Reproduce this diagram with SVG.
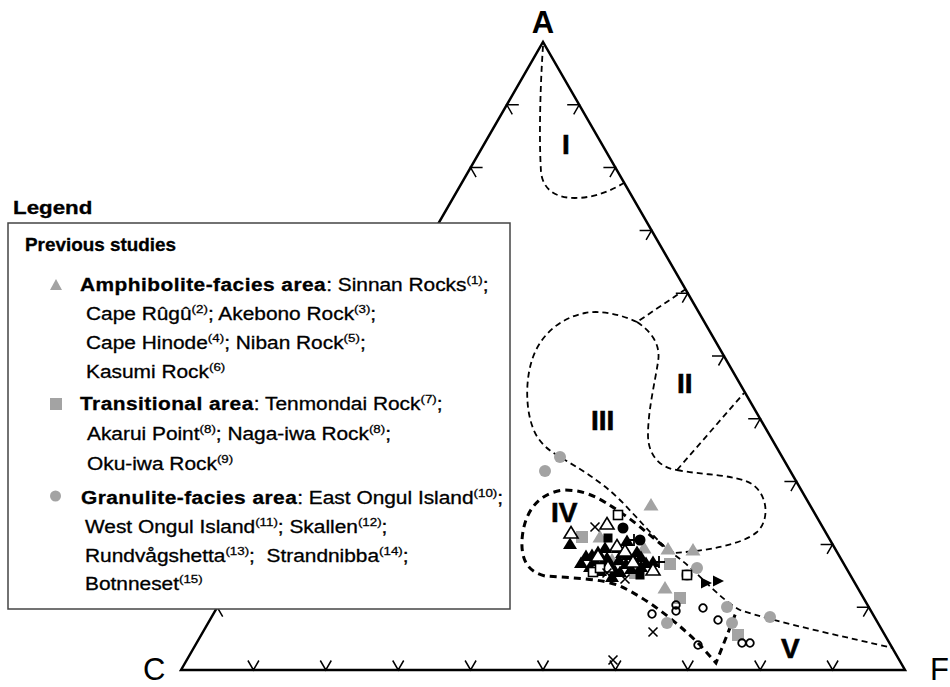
<svg xmlns="http://www.w3.org/2000/svg" xmlns:xlink="http://www.w3.org/1999/xlink" width="950" height="687" viewBox="0 0 950 687">
<style>
.edge{fill:none;stroke:#000;stroke-width:2.5;stroke-linejoin:miter}
.tick{fill:none;stroke:#000;stroke-width:1.5}
.thin{fill:none;stroke:#000;stroke-width:1.8;stroke-dasharray:6 4}
.thick{fill:none;stroke:#000;stroke-width:3;stroke-dasharray:7 5}
.corner{font-family:"Liberation Sans",Arial,sans-serif;font-size:31px;fill:#000}
.roman{font-family:"Liberation Sans",Arial,sans-serif;font-size:28px;font-weight:bold;fill:#000;stroke:#000;stroke-width:0.6}
.en{font-family:"Liberation Sans",Arial,sans-serif;font-size:18px;fill:#000;stroke:#000;stroke-width:0.3}
.b{font-weight:bold;letter-spacing:0.4px}
.sup{font-size:11.5px}
</style>
<defs>
<polygon id="gt" points="0,-7 7.5,5.5 -7.5,5.5" fill="#a3a3a3"/>
<rect id="gs" x="-6" y="-6" width="12" height="12" fill="#a3a3a3"/>
<circle id="gc" r="6" fill="#a3a3a3"/>
<polygon id="bt" points="0,-6.5 7,5 -7,5" fill="#000"/>
<polygon id="ot" points="0,-6.5 7,5 -7,5" fill="#fff" stroke="#000" stroke-width="1.6"/>
<rect id="os" x="-4.5" y="-4.5" width="9" height="9" fill="#fff" stroke="#000" stroke-width="1.6"/>
<circle id="bc" r="5.5" fill="#000"/>
<rect id="bs" x="-4.5" y="-4.5" width="9" height="9" fill="#000"/>
<circle id="oc" r="3.8" fill="none" stroke="#000" stroke-width="1.8"/>
<path id="xm" d="M-4.5,-4.5 L4.5,4.5 M-4.5,4.5 L4.5,-4.5" stroke="#000" stroke-width="1.6" fill="none"/>
<path id="pl" d="M-6,0 H6 M0,-6 V6" stroke="#000" stroke-width="1.8" fill="none"/>
<polygon id="rt" points="-5,-5.5 6,0 -5,5.5" fill="#000"/>
</defs>
<rect width="950" height="687" fill="#fff"/>

<g id="triangle">
<path class="edge" d="M181,670 L543,42 L905,670 Z"/>
<path class="tick" d="M247.9,660.5 L253.4,670 L258.9,660.5 M320.3,660.5 L325.8,670 L331.3,660.5 M392.7,660.5 L398.2,670 L403.7,660.5 M465.1,660.5 L470.6,670 L476.1,660.5 M537.5,660.5 L543,670 L548.5,660.5 M609.9,660.5 L615.4,670 L620.9,660.5 M682.3,660.5 L687.8,670 L693.3,660.5 M754.7,660.5 L760.2,670 L765.7,660.5 M827.1,660.5 L832.6,670 L838.1,660.5"/>
<path class="tick" d="M856.8,607.2 L868.8,607.2 L863.3,616.7 M820.6,544.4 L832.6,544.4 L827.1,553.9 M784.4,481.6 L796.4,481.6 L790.9,491.1 M748.2,418.8 L760.2,418.8 L754.7,428.3 M712,356 L724,356 L718.5,365.5 M675.8,293.2 L687.8,293.2 L682.3,302.7 M639.6,230.4 L651.6,230.4 L646.1,239.9 M603.4,167.6 L615.4,167.6 L609.9,177.1 M567.2,104.8 L579.2,104.8 L573.7,114.3"/>
<path class="tick" d="M229.2,607.2 L217.2,607.2 L222.7,616.7 M265.4,544.4 L253.4,544.4 L258.9,553.9 M301.6,481.6 L289.6,481.6 L295.1,491.1 M337.8,418.8 L325.8,418.8 L331.3,428.3 M374,356 L362,356 L367.5,365.5 M410.2,293.2 L398.2,293.2 L403.7,302.7 M446.4,230.4 L434.4,230.4 L439.9,239.9 M482.6,167.6 L470.6,167.6 L476.1,177.1 M518.8,104.8 L506.8,104.8 L512.3,114.3"/>
<text class="corner" x="543" y="33" text-anchor="middle" font-weight="bold" font-size="29">A</text>
<text class="corner" x="143" y="680">C</text>
<text class="corner" x="930" y="680">F</text>
</g>

<g id="fields">
<path class="thin" d="M543,46 C540,90 539,140 541,172 C543,190 556,198 575,198 C595,198 612,190 624,183"/>
<path class="thin" d="M686,289 L637,322"/>
<path class="thin" d="M637,322 C620,314 600,310 585,313 C560,318 540,335 532,360 C524,385 526,420 538,438 C545,448 552,452 560,457 C578,468 600,480 620,500 C640,520 658,543 676,556 C696,570 718,598 740,610 C775,622 850,638 893,648"/>
<path class="thin" d="M637,322 C652,332 661,345 658,362 C655,382 648,410 648,435 C648,455 660,468 677,470"/>
<path class="thin" d="M677,470 L744,393"/>
<path class="thin" d="M677,470 C700,475 735,474 752,484 C768,495 770,520 757,532 C742,545 705,551 673,553"/>
<path class="thick" d="M673,553 C660,545 640,525 620,512 C600,498 585,490 565,490 C540,492 524,510 522,540 C521,560 528,572 545,576 C570,578 600,578 620,586 C650,600 680,625 700,645 L716,663 L737,610"/>
<text class="roman" x="562" y="154">I</text>
<text class="roman" x="677" y="393">II</text>
<text class="roman" x="591" y="430">III</text>
<text class="roman" x="551" y="522">IV</text>
<text class="roman" x="781" y="658">V</text>
</g>

<g id="data">
<use href="#gc" x="560" y="457"/><use href="#gc" x="545" y="471"/><use href="#gc" x="697" y="568"/><use href="#gc" x="687" y="575"/><use href="#gc" x="727" y="607"/><use href="#gc" x="732" y="623"/><use href="#gc" x="667" y="623"/><use href="#gc" x="770" y="617"/>
<use href="#gt" x="651" y="505"/><use href="#gt" x="668" y="549"/><use href="#gt" x="693" y="550"/><use href="#gt" x="665" y="588"/><use href="#gt" x="600" y="537"/><use href="#gt" x="644" y="548"/><use href="#gt" x="612" y="560"/>
<use href="#gs" x="582" y="537"/><use href="#gs" x="635" y="573"/><use href="#gs" x="670" y="564"/><use href="#gs" x="680" y="598"/><use href="#gs" x="738" y="635"/>
<use href="#ot" x="571" y="533"/><use href="#bt" x="570" y="544"/>
<use href="#ot" x="607" y="524"/><use href="#os" x="618" y="515"/><use href="#xm" x="595" y="527"/>
<use href="#bc" x="623" y="528"/><use href="#bc" x="640" y="540"/><use href="#pl" x="634" y="540"/>
<use href="#bs" x="608" y="538"/><use href="#bt" x="627" y="541"/>
<use href="#bt" x="586" y="556"/><use href="#bt" x="598" y="552"/><use href="#bt" x="605" y="548"/><use href="#bt" x="618" y="548"/><use href="#bt" x="628" y="555"/><use href="#bt" x="595" y="561"/><use href="#bt" x="603" y="563"/><use href="#bt" x="611" y="566"/><use href="#bt" x="619" y="560"/><use href="#bt" x="626" y="564"/><use href="#bt" x="634" y="560"/><use href="#bt" x="641" y="557"/><use href="#bt" x="646" y="563"/><use href="#bt" x="590" y="567"/><use href="#bt" x="600" y="571"/><use href="#bt" x="615" y="571"/><use href="#bt" x="631" y="569"/><use href="#bt" x="641" y="567"/><use href="#bt" x="612" y="577"/><use href="#bt" x="581" y="563"/><use href="#bt" x="653" y="562"/><use href="#bt" x="622" y="553"/><use href="#bt" x="592" y="555"/><use href="#bt" x="607" y="558"/><use href="#bt" x="637" y="552"/><use href="#bt" x="620" y="572"/>
<use href="#ot" x="617" y="546"/><use href="#ot" x="598" y="556"/><use href="#ot" x="625" y="551"/><use href="#ot" x="608" y="567"/><use href="#ot" x="653" y="570"/><use href="#ot" x="633" y="562"/>
<use href="#os" x="593" y="572"/><use href="#os" x="600" y="568"/><use href="#os" x="687" y="575"/>
<use href="#bs" x="640" y="575"/>
<use href="#xm" x="625" y="579"/><use href="#xm" x="607" y="573"/><use href="#xm" x="653" y="632"/><use href="#xm" x="613" y="660"/>
<use href="#pl" x="659" y="562"/>
<use href="#rt" x="706" y="583"/><use href="#rt" x="718" y="581"/>
<use href="#oc" x="652" y="614"/><use href="#oc" x="676" y="605"/><use href="#oc" x="676" y="611"/><use href="#oc" x="703" y="608"/><use href="#oc" x="718" y="620"/><use href="#oc" x="698" y="645"/><use href="#oc" x="742" y="643"/><use href="#oc" x="750" y="643"/>
</g>

<g id="legend">
<text class="en" transform="translate(13,214) scale(1.24,1)" font-weight="bold" font-size="17">Legend</text>
<rect x="8" y="223" width="502" height="386" fill="#fff" stroke="#444" stroke-width="1.5"/>
<text class="en" transform="translate(25,251) scale(1.05,1)" font-weight="bold" font-size="18.5">Previous studies</text>
<polygon points="56,279 62,290 50,290" fill="#a3a3a3"/>
<rect x="50" y="398" width="12" height="12" fill="#a3a3a3"/>
<circle cx="55.5" cy="496" r="5.5" fill="#a3a3a3"/>
<text class="en" transform="translate(80,291) scale(1.16,1)"><tspan class="b">Amphibolite-facies area</tspan>: Sinnan Rocks<tspan class="sup" dy="-7">(1)</tspan><tspan dy="7">;</tspan></text>
<text class="en" transform="translate(86,320) scale(1.16,1)">Cape Rûgû<tspan class="sup" dy="-7">(2)</tspan><tspan dy="7">; Akebono Rock</tspan><tspan class="sup" dy="-7">(3)</tspan><tspan dy="7">;</tspan></text>
<text class="en" transform="translate(86,349) scale(1.16,1)">Cape Hinode<tspan class="sup" dy="-7">(4)</tspan><tspan dy="7">; Niban Rock</tspan><tspan class="sup" dy="-7">(5)</tspan><tspan dy="7">;</tspan></text>
<text class="en" transform="translate(86,378) scale(1.16,1)">Kasumi Rock<tspan class="sup" dy="-7">(6)</tspan></text>
<text class="en" transform="translate(80,410) scale(1.16,1)"><tspan class="b">Transitional area</tspan>: Tenmondai Rock<tspan class="sup" dy="-7">(7)</tspan><tspan dy="7">;</tspan></text>
<text class="en" transform="translate(87,440) scale(1.16,1)">Akarui Point<tspan class="sup" dy="-7">(8)</tspan><tspan dy="7">; Naga-iwa Rock</tspan><tspan class="sup" dy="-7">(8)</tspan><tspan dy="7">;</tspan></text>
<text class="en" transform="translate(87,470) scale(1.16,1)">Oku-iwa Rock<tspan class="sup" dy="-7">(9)</tspan></text>
<text class="en" transform="translate(81,504) scale(1.16,1)"><tspan class="b">Granulite-facies area</tspan>: East Ongul Island<tspan class="sup" dy="-7">(10)</tspan><tspan dy="7">;</tspan></text>
<text class="en" transform="translate(85,533) scale(1.16,1)">West Ongul Island<tspan class="sup" dy="-7">(11)</tspan><tspan dy="7">; Skallen</tspan><tspan class="sup" dy="-7">(12)</tspan><tspan dy="7">;</tspan></text>
<text class="en" transform="translate(85,562) scale(1.16,1)" style="white-space:pre">Rundvågshetta<tspan class="sup" dy="-7">(13)</tspan><tspan dy="7">;  Strandnibba</tspan><tspan class="sup" dy="-7">(14)</tspan><tspan dy="7">;</tspan></text>
<text class="en" transform="translate(85,590) scale(1.16,1)">Botnneset<tspan class="sup" dy="-7">(15)</tspan></text>
</g>
</svg>
